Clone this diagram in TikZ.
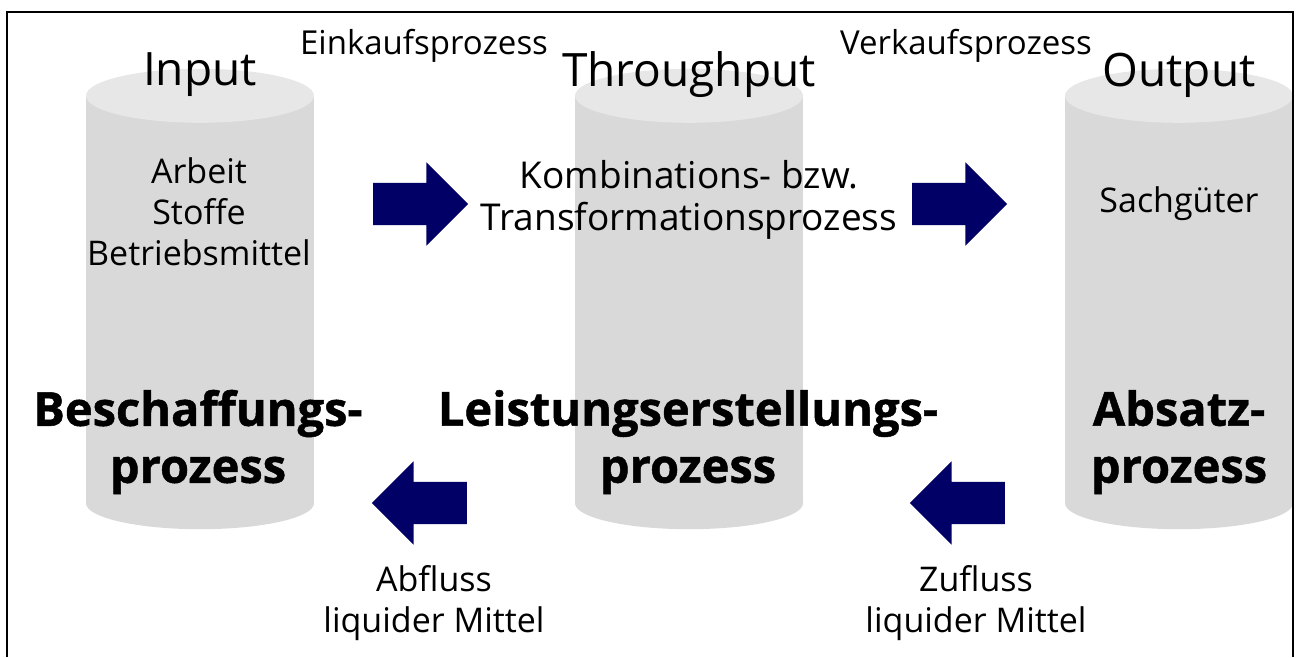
\documentclass[tikz,border=0pt]{standalone}
\usepackage{fontspec}
\setmainfont{Open Sans}[BoldFeatures={FakeBold=1}]
\usetikzlibrary{shapes.arrows, positioning}

\definecolor{drumgray}{RGB}{217,217,217}
\definecolor{drumlid}{RGB}{231,231,231}
\definecolor{flownavy}{RGB}{0,0,102}

\begin{document}
\begin{tikzpicture}[
    x=1pt, y=-1pt,
    drum/.style={rectangle, fill=drumgray, minimum width=228pt, minimum height=407pt, inner sep=0pt},
    heading/.style={font=\fontsize{46}{50}\selectfont},
    txt/.style={font=\fontsize{34}{41}\selectfont, align=center},
    proc/.style={font=\fontsize{47}{57}\selectfont\bfseries, align=center},
    flowright/.style={single arrow, fill=flownavy, minimum height=95pt, inner xsep=0pt, inner ysep=21pt, single arrow head extend=20.5pt},
    flowleft/.style={flowright, shape border rotate=180}
]
\useasboundingbox (0,0) rectangle (1296,657);

% the three drums
\node [drum] (input) at (200,299.5) {};
\fill [drumgray] (input.south) ellipse [x radius=114, y radius=26];
\fill [drumlid] (input.north) ellipse [x radius=114, y radius=27];

\node [drum] (through) at (689,299.5) {};
\fill [drumgray] (through.south) ellipse [x radius=114, y radius=26];
\fill [drumlid] (through.north) ellipse [x radius=114, y radius=27];

\node [drum] (output) at (1179,299.5) {};
\fill [drumgray] (output.south) ellipse [x radius=114, y radius=26];
\fill [drumlid] (output.north) ellipse [x radius=114, y radius=27];

% headings
\node [heading] (inputhead) at (200,75) {Input};
\node [heading] (throughhead) at (689,75) {Throughput};
\node [heading] (outputhead) at (1179,75) {Output};
\node [txt, font=\fontsize{33}{41}\selectfont] (buy) at (424,46) {Einkaufsprozess};
\node [txt, font=\fontsize{33}{41}\selectfont] (sell) at (966,46) {Verkaufsprozess};

% contents
\node [txt] (factors) at (199,212) {Arbeit\\Stoffe\\Betriebsmittel};
\node [txt, font=\fontsize{37}{42}\selectfont] (combine) at (689,200) {Kombinations- bzw.\\Transformationsprozess};
\node [txt] (goods) at (1179,204) {Sachgüter};

\node [proc] (procure) at (198,442) {Beschaffungs-\\prozess};
\node [proc] (produce) at (688,442) {Leistungserstellungs-\\prozess};
\node [proc] (sales) at (1179,442) {Absatz-\\prozess};

% flows of goods and money
\node [flowright] (goin) at (410,204) {};
\node [flowright] (goout) at (949,204) {};
\node [flowleft] (payout) at (430,503) {};
\node [flowleft] (payin) at (968,503) {};

\node [txt] (outflow) at (434,603) {Abfluss\\liquider Mittel};
\node [txt] (inflow) at (976,603) {Zufluss\\liquider Mittel};

% frame
\draw [line width=2pt] (7,657) |- (1293,12) -- (1293,657);
\end{tikzpicture}
\end{document}
